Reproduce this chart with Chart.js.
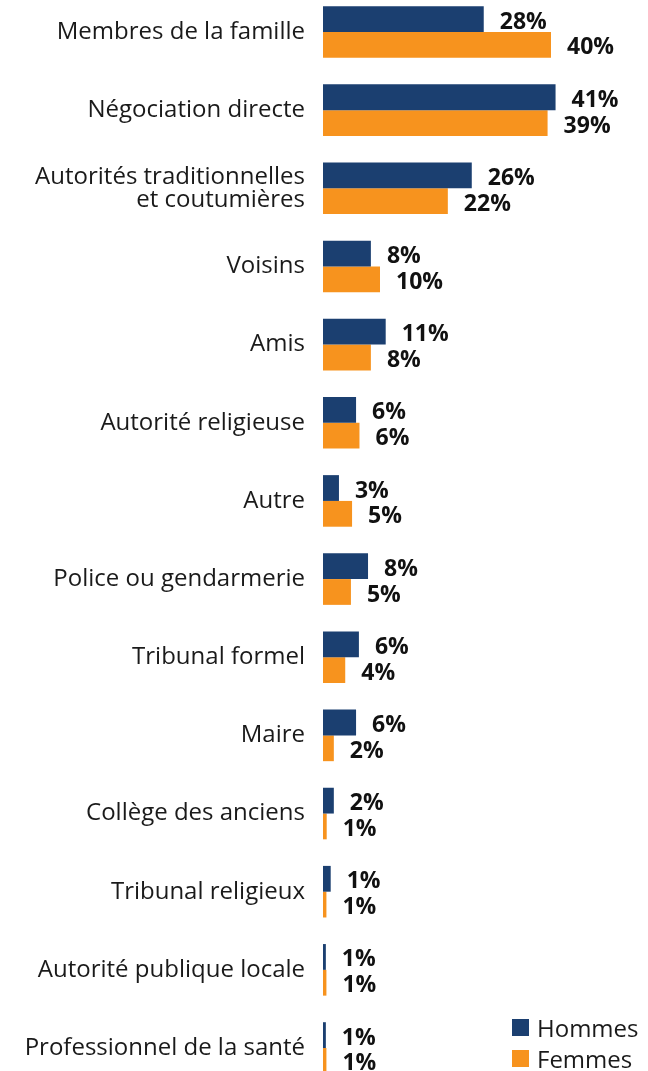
<!DOCTYPE html>
<html>
<head>
<meta charset="utf-8">
<script src="https://cdn.jsdelivr.net/npm/chart.js@4"></script>
<style>
  html, body { margin: 0; padding: 0; background: #fff; }
  #wrap { position: relative; width: 648px; height: 1071px; }
  .legend { position: absolute; left: 512px; font: 24px "Open Sans", sans-serif; color: #1a1a1a; }
  .legend div { height: 31px; display: flex; align-items: center; }
  .legend span.sw { display: inline-block; width: 17px; height: 17px; margin-right: 8px; }
</style>
</head>
<body>
<div id="wrap">
  <canvas id="chart" width="648" height="1071"></canvas>
  <div class="legend" id="legend" style="top: 1012px;"></div>
</div>
<script>
// categories, top to bottom
const categories = [
    'Membres de la famille',
    'Négociation directe',
    ['Autorités traditionnelles', 'et coutumières'],
    'Voisins',
    'Amis',
    'Autorité religieuse',
    'Autre',
    'Police ou gendarmerie',
    'Tribunal formel',
    'Maire',
    'Collège des anciens',
    'Tribunal religieux',
    'Autorité publique locale',
    'Professionnel de la santé'
];

// percentages
const hommes = [28.2, 40.8, 26.1, 8.4, 11, 5.8, 2.8, 7.9, 6.3, 5.8, 1.9, 1.35, 0.5, 0.5];
const femmes = [40.0, 39.4, 21.9, 10, 8.4, 6.4, 5.1, 4.9, 3.9, 1.9, 0.65, 0.6, 0.6, 0.6];

const seriesNames = ['Hommes', 'Femmes'];
const seriesColors = ['#1b3f70', '#f7931e'];

const fontFamily = '"Open Sans", "Noto Sans", sans-serif';

// draws the "28%" style labels to the right of each bar
const valueLabels = {
    id: 'valueLabels',
    afterDatasetsDraw(chart) {
        const ctx = chart.ctx;
        ctx.save();
        ctx.font = 'bold 23px ' + fontFamily;
        ctx.fillStyle = '#111';
        ctx.textAlign = 'left';
        ctx.textBaseline = 'middle';
        chart.data.datasets.forEach((ds, i) => {
            chart.getDatasetMeta(i).data.forEach((bar, j) => {
                ctx.fillText(Math.round(ds.data[j]) + '%', bar.x + 16, bar.y + 3);
            });
        });
        ctx.restore();
    }
};

const ctx = document.getElementById('chart').getContext('2d');

new Chart(ctx, {
    type: 'bar',
    data: {
        labels: categories,
        datasets: [{
            label: seriesNames[0],
            data: hommes,
            backgroundColor: seriesColors[0],
            clip: false
        }, {
            label: seriesNames[1],
            data: femmes,
            backgroundColor: seriesColors[1],
            clip: false
        }]
    },
    options: {
        indexAxis: 'y',
        responsive: false,
        animation: false,
        categoryPercentage: 0.66,
        barPercentage: 1,
        layout: {
            padding: { top: 32, bottom: 23, left: 0, right: 40 }
        },
        plugins: {
            legend: { display: false },
            tooltip: { enabled: false }
        },
        scales: {
            x: {
                display: false,
                min: 0,
                max: 50
            },
            y: {
                offset: false,
                grid: { display: false },
                border: { display: false },
                ticks: {
                    padding: 10,
                    color: '#1a1a1a',
                    font: { family: fontFamily, size: 24, lineHeight: 0.97 }
                },
                afterFit(scale) {
                    scale.width = 323;
                }
            }
        }
    },
    plugins: [valueLabels]
});

// legend in the bottom right corner
const legend = document.getElementById('legend');
seriesNames.forEach((name, i) => {
    const row = document.createElement('div');
    row.innerHTML = '<span class="sw" style="background:' + seriesColors[i] + '"></span>' + name;
    legend.appendChild(row);
});
</script>
</body>
</html>
